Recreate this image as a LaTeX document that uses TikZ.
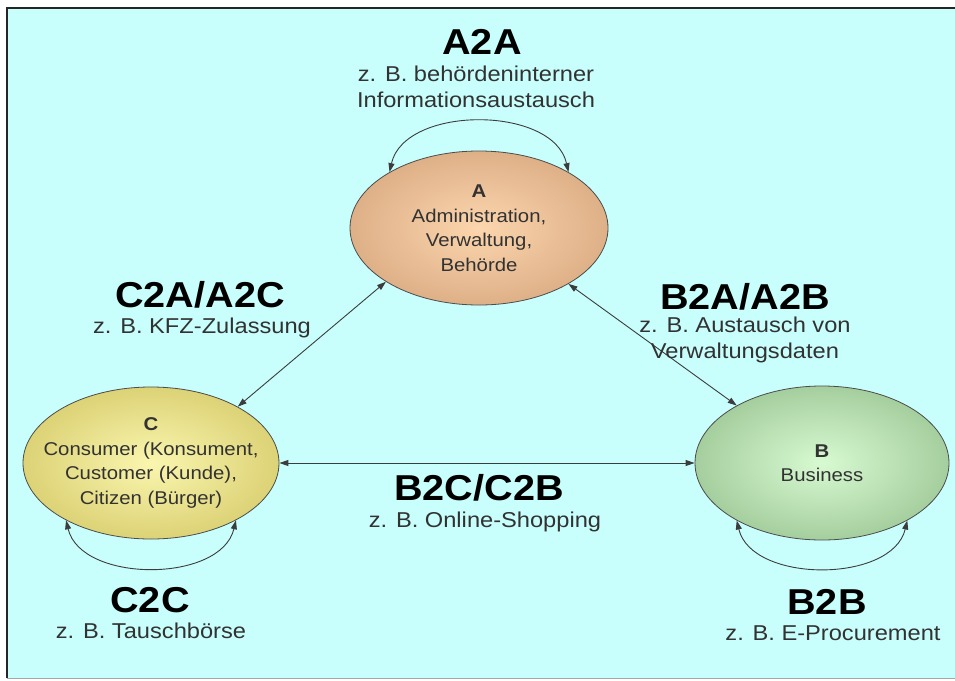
\documentclass[tikz,border=0pt]{standalone}
\usepackage{fontspec}
\setmainfont{Liberation Sans}
\usetikzlibrary{shapes.geometric,arrows.meta}
\definecolor{bgcyan}{RGB}{200,255,252}
\definecolor{linkc}{RGB}{60,60,60}
\definecolor{txtc}{RGB}{50,50,50}
\newcommand{\wide}[1]{\scalebox{1.1}[1]{#1}}
\begin{document}
\begin{tikzpicture}[x=1pt,y=-1pt,
  ent/.style={ellipse, draw=black!70, line width=0.8pt, inner sep=0pt, shading=radial},
  etx/.style={align=center, inner sep=0pt, text=txtc, font=\fontsize{18.5}{24.5}\selectfont},
  ttl/.style={font=\bfseries\fontsize{36}{40}\selectfont, inner sep=0pt},
  dsc/.style={font=\fontsize{21.5}{26}\selectfont, text=txtc, align=center, inner sep=0pt},
  conn/.style={draw=linkc, line width=0.9pt,
    {Triangle[length=9pt,width=6pt]}-{Triangle[length=9pt,width=6pt]}},
]
\useasboundingbox (0,0) rectangle (955,680);
\fill[white] (0,0) rectangle (955,680);
\fill[bgcyan] (7,8) rectangle (955,678);
\draw[gray!70, line width=1pt] (7,678.5) -- (955,678.5);
\draw[black!85, line width=2pt] (7,678) -- (7,8) -- (955,8);

% entities
\node[ent, minimum width=258pt, minimum height=154pt,
  inner color={rgb,255:red,252;green,214;blue,174}, outer color={rgb,255:red,222;green,176;blue,136}]
  (A) at (479,228) {};
\node[ent, minimum width=256pt, minimum height=152pt,
  inner color={rgb,255:red,250;green,246;blue,175}, outer color={rgb,255:red,220;green,210;blue,118}]
  (C) at (151,463) {};
\node[ent, minimum width=254pt, minimum height=154pt,
  inner color={rgb,255:red,216;green,250;blue,210}, outer color={rgb,255:red,165;green,206;blue,158}]
  (B) at (822,463) {};
\node[etx] (At) at (A.center) {\wide{\bfseries A}\\\wide{Administration,}\\\wide{Verwaltung,}\\\wide{Behörde}};
\node[etx] (Ct) at (C.center) {\wide{\bfseries C}\\\wide{Consumer (Konsument,}\\\wide{Customer (Kunde),}\\\wide{Citizen (Bürger)}};
\node[etx] (Bt) at (B.center) {\wide{\bfseries B}\\\wide{Business}};

% connectors
\draw[conn] (A.210) -- (C.33);
\draw[conn] (A.328) -- (B.146);
\draw[conn] (C.east) -- (B.west);
\draw[conn] (A.148) .. controls +(15,-67) and +(-15,-67) .. (A.32);
\draw[conn] (C.214) .. controls +(15,63) and +(-15,63) .. (C.326);
\draw[conn] (B.214) .. controls +(15,63) and +(-15,63) .. (B.326);

% labels
\node[ttl] (tAA) at (482,42) {\wide{A2A}};
\node[dsc] (dAA) at (476,87) {\wide{z. B. behördeninterner}\\\wide{Informationsaustausch}};
\node[ttl] (tCA) at (200,295) {\wide{C2A/A2C}};
\node[dsc] (dCA) at (202,328) {\wide{z. B. KFZ-Zulassung}};
\node[ttl] (tBA) at (745,297) {\wide{B2A/A2B}};
\node[dsc] (dBA) at (745,340) {\wide{z. B. Austausch von}\\\wide{Verwaltungsdaten}};
\node[ttl] (tBC) at (479,488) {\wide{B2C/C2B}};
\node[dsc] (dBC) at (485,522) {\wide{z. B. Online-Shopping}};
\node[ttl] (tCC) at (150,600) {\wide{C2C}};
\node[dsc] (dCC) at (151,631) {\wide{z. B. Tauschbörse}};
\node[ttl] (tBB) at (827,602) {\wide{B2B}};
\node[dsc] (dBB) at (833,633) {\wide{z. B. E-Procurement}};
\end{tikzpicture}
\end{document}
